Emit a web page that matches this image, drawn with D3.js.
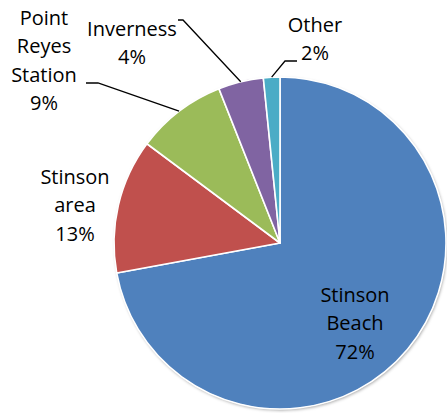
<!DOCTYPE html>
<html>
<head>
<meta charset="utf-8">
<script src="https://cdn.jsdelivr.net/npm/d3@7"></script>
<style>
  body { margin: 0; background: #fff; }
  svg { display: block; }
  text { font-family: "Open Sans", sans-serif; font-size: 20px; fill: #000; }
</style>
</head>
<body>
<svg width="447" height="413"></svg>
<script>
var categories = ["Stinson Beach", "Stinson area", "Point Reyes Station", "Inverness", "Other"];
var values = [72.1, 13.1, 8.8, 4.4, 1.6];
var labelLines = [["Stinson", "Beach"], ["Stinson", "area"], ["Point", "Reyes", "Station"], ["Inverness"], ["Other"]];
var colors = ["#4f81bd", "#c0504d", "#9bbb59", "#8064a2", "#4bacc6"];

var svg = d3.select("svg"),
    cx = 280, cy = 243, r = 166;

// label placement (centre x, first baseline y), and leader elbows
var labelPos = [[355, 302], [75, 184], [44, 25], [132, 36], [315, 32]];
var leaders = [null, null, [[98, 83], [86, 83]], [[183, 20], [178, 20]], [[285, 61], [297, 61]]];

var defs = svg.append("defs");
var f = defs.append("filter").attr("id", "shadow")
    .attr("x", "-10%").attr("y", "-10%").attr("width", "120%").attr("height", "120%");
f.append("feDropShadow").attr("dx", 1).attr("dy", 1.5).attr("stdDeviation", 1.5)
    .attr("flood-color", "#000").attr("flood-opacity", 0.35);

var data = categories.map(function(c, i) { return { name: c, value: values[i], i: i }; });

var pie = d3.pie().sort(null).value(function(d) { return d.value; });
var arc = d3.arc().innerRadius(0).outerRadius(r);

var arcs = pie(data);

var g = svg.append("g").attr("transform", "translate(" + cx + "," + cy + ")");

g.append("circle").attr("r", r).attr("fill", "#fff").attr("filter", "url(#shadow)");

g.selectAll("path.slice")
  .data(arcs)
  .enter().append("path")
    .attr("class", "slice")
    .attr("d", arc)
    .attr("fill", function(d) { return colors[d.data.i]; })
    .attr("stroke", "#fff")
    .attr("stroke-width", 1.6)
    .attr("stroke-linejoin", "round");

// leader lines
arcs.forEach(function(d) {
  var pts = leaders[d.data.i];
  if (!pts) return;
  var a = (d.startAngle + d.endAngle) / 2;
  var start = [cx + r * Math.sin(a), cy - r * Math.cos(a)];
  svg.append("path")
      .attr("d", d3.line()([start].concat(pts)))
      .attr("fill", "none")
      .attr("stroke", "#000")
      .attr("stroke-width", 1.3);
});

// labels
arcs.forEach(function(d) {
  var i = d.data.i;
  var lines = labelLines[i].concat([Math.round(d.data.value) + "%"]);
  var t = svg.append("text")
      .attr("text-anchor", "middle")
      .attr("x", labelPos[i][0])
      .attr("y", labelPos[i][1]);
  lines.forEach(function(s, k) {
    t.append("tspan")
        .attr("x", labelPos[i][0])
        .attr("dy", k === 0 ? 0 : 28.3)
        .text(s);
  });
});
</script>
</body>
</html>
